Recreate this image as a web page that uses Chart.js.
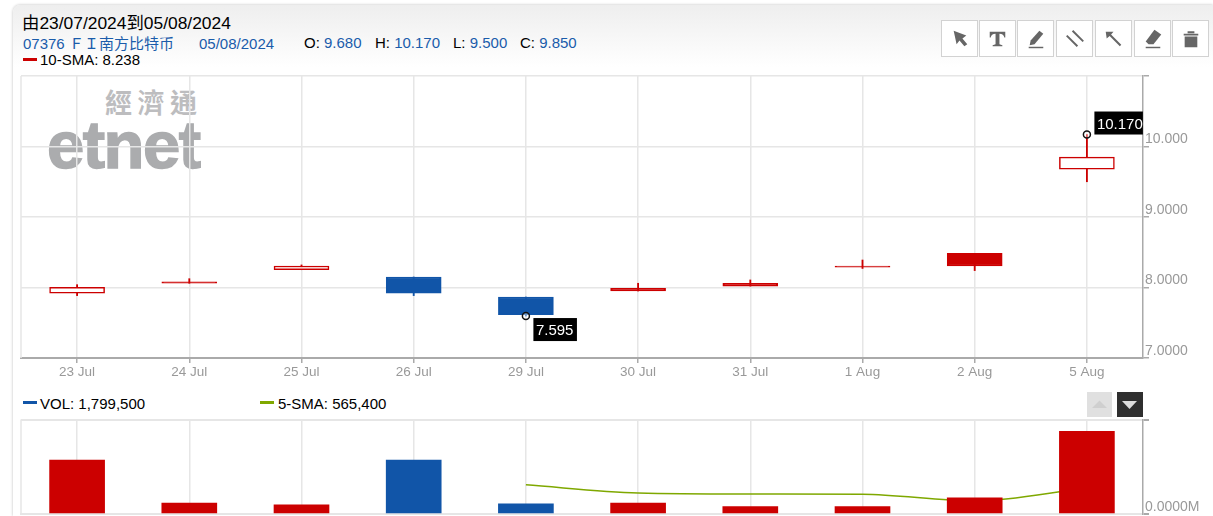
<!DOCTYPE html>
<html>
<head>
<meta charset="utf-8">
<title>07376</title>
<script src="https://cdn.jsdelivr.net/npm/chart.js@4"></script>
<style>
  html, body { margin: 0; padding: 0; background: #fff; }
  body { width: 1213px; height: 516px; overflow: hidden; position: relative;
         font-family: "Liberation Sans", "Noto Sans CJK SC", sans-serif; }
  .abs { position: absolute; white-space: nowrap; }
  #card { left: 13px; top: 5px; width: 1200px; height: 511px; border-radius: 7px 0 0 0;
          background: linear-gradient(#eeeeee 0, #ffffff 62px);
          box-shadow: 0 0 3px #bbb; }
  canvas { position: absolute; left: 0; }
  #priceChart { top: 0; }
  #volChart { top: 385px; }
  .txt { font-size: 15px; line-height: 16px; color: #000; }
  .blue { color: #1a5cab; }
  .swatch { height: 3px; width: 14px; }
  .tool { width: 35px; height: 35px; top: 20px; background: #fff; border: 1px solid #d2d2d2;
          box-sizing: content-box; }
  .tool svg { display: block; width: 35px; height: 35px; }
  .tool svg * { fill: #666; stroke: none; }
  .tool svg .ln { fill: none; stroke: #666; stroke-width: 2; }
</style>
</head>
<body>
<div id="card" class="abs"></div>

<div class="abs" style="left:105px;top:85px;font:bold 27px 'Noto Sans CJK TC';letter-spacing:5.500px;color:#bdbdbf;line-height:34px;">經濟通</div>
<div class="abs" style="left:47px;top:108px;font:bold 67px 'Liberation Sans';letter-spacing:-1.500px;color:#abacae;line-height:74px;-webkit-text-stroke:1.500px #abacae;">etnet</div>

<div class="abs" style="left:22px;top:14px;font-size:17.400px;line-height:18px;color:#000;">由23/07/2024到05/08/2024</div>
<div class="abs txt blue" style="left:23px;top:36px;">07376 ＦＩ南方比特币</div>
<div class="abs txt blue" style="left:199px;top:36px;">05/08/2024</div>
<div class="abs txt" style="left:304px;top:35px;">O: <span class="blue">9.680</span></div>
<div class="abs txt" style="left:375px;top:35px;">H: <span class="blue">10.170</span></div>
<div class="abs txt" style="left:453px;top:35px;">L: <span class="blue">9.500</span></div>
<div class="abs txt" style="left:520px;top:35px;">C: <span class="blue">9.850</span></div>
<div class="abs swatch" style="left:23px;top:58px;background:#cc0000;"></div>
<div class="abs txt" style="left:40px;top:52px;">10-SMA: 8.238</div>

<div class="abs swatch" style="left:23px;top:401px;background:#1155a8;"></div>
<div class="abs txt" style="left:40px;top:396px;">VOL: 1,799,500</div>
<div class="abs swatch" style="left:260px;top:401px;background:#80a800;"></div>
<div class="abs txt" style="left:278px;top:396px;">5-SMA: 565,400</div>

<div class="abs tool" style="left:941px;"><svg viewBox="0 0 36 36"><path d="M12 10 L25 15 L21 18 L26 24 L23 26 L18 20 L15 24 Z"/></svg></div>
<div class="abs tool" style="left:979px;"><svg viewBox="0 0 36 36"><path d="M10 11 H26 V17 H25 Q24.500 13 20 13 V24 L23 25 V26 H13 V25 L16 24 V13 Q11.500 13 11 17 H10 Z"/></svg></div>
<div class="abs tool" style="left:1017px;"><svg viewBox="0 0 36 36"><path d="M22 10 L26 13 L17 24 L12 25 L13 20 Z"/><path d="M11 26.500 H26 V28 H11 Z"/></svg></div>
<div class="abs tool" style="left:1056px;"><svg viewBox="0 0 36 36"><path class="ln" d="M16 10 L27 21 M10 15 L21 26"/></svg></div>
<div class="abs tool" style="left:1095px;"><svg viewBox="0 0 36 36"><path d="M10 11 L18 11 L15.500 14 L26 24.500 L24.500 26 L14 15.500 L11 18 Z"/></svg></div>
<div class="abs tool" style="left:1134px;"><svg viewBox="0 0 36 36"><path d="M20 9 L27 14 L19 24 H14 L11 21 Z"/><path d="M11 26.500 H26 V28 H11 Z"/></svg></div>
<div class="abs tool" style="left:1172px;"><svg viewBox="0 0 36 36"><path d="M11 13 H26 V15 H11 Z M15 10.500 H22 V12.500 H15 Z M12 16 H25 V27 H12 Z"/></svg></div>

<div class="abs" style="left:1087px;top:392px;width:25px;height:25px;background:#e0e0e0;"><svg width="25" height="25"><path d="M5 16 L12.500 8.500 L20 16 Z" fill="#cfcfcf"/></svg></div>
<div class="abs" style="left:1117px;top:392px;width:26px;height:25px;background:#2f2f2f;"><svg width="26" height="25"><path d="M5 9 L20 9 L12.500 17 Z" fill="#dddddd"/></svg></div>

<canvas id="priceChart" width="1213" height="385"></canvas>
<canvas id="volChart" width="1213" height="131"></canvas>

<script>
const days = ['23 Jul', '24 Jul', '25 Jul', '26 Jul', '29 Jul', '30 Jul', '31 Jul', '1 Aug', '2 Aug', '5 Aug'];
const opens = [7.918, 8.06, 8.252, 8.149, 7.865, 7.95, 8.02, 8.29, 8.305, 9.68];
const closes = [8.003, 8.08, 8.305, 7.918, 7.614, 7.99, 8.06, 8.305, 8.485, 9.85];
const highs = [8.04, 8.125, 8.32, 8.149, 7.865, 8.06, 8.107, 8.39, 8.485, 10.17];
const lows = [7.885, 8.06, 8.252, 7.885, 7.595, 7.95, 8.02, 8.27, 8.24, 9.5];
const hollowDays = ['23 Jul', '25 Jul', '5 Aug'];
const callouts = [null, null, null, null, 7.595, null, null, null, null, 10.17];
const volumes = [1172000, 240000, 197000, 1172000, 219000, 240000, 160000, 160000, 350000, 1799500];
const volSma = [null, null, null, null, 634000, 459000, 437000, 430000, 284000, 565400];
const priceTicks = [7, 8, 9, 10, 11];

const RED = '#cc0000';
const BLUE = '#1155a8';
const GRID = '#e6e6e6';
const AXIS = '#aaaaaa';
const LABEL = '#999999';
const FONT = 'Liberation Sans';

const isUp = days.map((d, i) => closes[i] >= opens[i]);
const candleColor = isUp.map(up => up ? RED : BLUE);

// left edge of the plot, neither axis draws it
const frame = {
  id: 'frame',
  beforeDatasetsDraw(chart) {
    const { ctx, chartArea } = chart;
    ctx.save();
    ctx.strokeStyle = GRID;
    ctx.lineWidth = 1.5;
    ctx.beginPath();
    ctx.moveTo(chartArea.left, chartArea.top);
    ctx.lineTo(chartArea.left, chartArea.bottom);
    ctx.stroke();
    ctx.restore();
  }
};

// black boxes next to the high and low markers
const calloutLabels = {
  id: 'calloutLabels',
  afterDatasetsDraw(chart) {
    const { ctx, scales } = chart;
    ctx.save();
    ctx.font = '15px "' + FONT + '"';
    ctx.textBaseline = 'middle';
    ctx.textAlign = 'left';
    callouts.forEach((v, i) => {
      if (v === null) return;
      const x = scales.x.getPixelForValue(i);
      const y = scales.y.getPixelForValue(v);
      const above = v === Math.max(...highs);
      const text = v.toFixed(3);
      const w = Math.min(ctx.measureText(text).width + 6, 48.5);
      const bx = x + 7.5;
      const by = above ? y - 23 : y + 2;
      ctx.fillStyle = '#000';
      ctx.fillRect(bx, by, w, 23);
      ctx.fillStyle = '#fff';
      ctx.fillText(text, bx + 2.5, by + 13);
    });
    ctx.restore();
  }
};

new Chart(document.getElementById('priceChart'), {
  type: 'bar',
  data: {
    labels: days,
    datasets: [
      {
        type: 'line',
        data: callouts,
        showLine: false,
        pointStyle: 'circle',
        pointRadius: 3.5,
        pointBorderWidth: 1.5,
        pointBorderColor: '#111',
        pointBackgroundColor: 'rgba(255,255,255,0.4)',
        order: 1
      },
      {
        data: days.map((d, i) => [opens[i], closes[i]]),
        backgroundColor: days.map((d, i) => hollowDays.includes(d) ? '#fff' : candleColor[i]),
        borderColor: candleColor,
        borderWidth: 1.5,
        borderSkipped: false,
        barThickness: 55,
        grouped: false,
        order: 2
      },
      {
        data: days.map((d, i) => [lows[i], highs[i]]),
        backgroundColor: candleColor,
        barThickness: 1.2,
        grouped: false,
        order: 3
      }
    ]
  },
  options: {
    responsive: false,
    animation: false,
    devicePixelRatio: 1,
    layout: { padding: { left: 21, top: 76, right: 0, bottom: 0 } },
    plugins: { legend: { display: false }, tooltip: { enabled: false } },
    scales: {
      x: {
        offset: true,
        afterFit(s) { s.height = 27; },
        grid: { offset: false, color: GRID, tickColor: AXIS, tickLength: 5, lineWidth: 1.5 },
        border: { color: AXIS, width: 2 },
        ticks: { color: LABEL, font: { family: FONT, size: 13.5 }, padding: 1, maxRotation: 0, autoSkip: false }
      },
      y: {
        position: 'right',
        min: 7,
        max: 11,
        afterBuildTicks(s) { s.ticks = priceTicks.map(value => ({ value })); },
        afterFit(s) { s.width = 70; },
        grid: { color: GRID, tickColor: AXIS, tickLength: 6, lineWidth: 1.5 },
        border: { color: AXIS, width: 1.5 },
        ticks: {
          color: LABEL,
          font: { family: FONT, size: 14 },
          padding: -4,
          labelOffset: -7,
          callback: v => v === 11 ? '' : v.toPrecision(5)
        }
      }
    }
  },
  plugins: [frame, calloutLabels]
});

new Chart(document.getElementById('volChart'), {
  type: 'bar',
  data: {
    labels: days,
    datasets: [
      {
        data: volumes,
        backgroundColor: candleColor,
        barThickness: 55,
        order: 1
      },
      {
        type: 'line',
        data: volSma,
        borderColor: '#7fa800',
        borderWidth: 1.5,
        pointRadius: 0,
        cubicInterpolationMode: 'monotone',
        order: 2
      }
    ]
  },
  options: {
    responsive: false,
    animation: false,
    devicePixelRatio: 1,
    layout: { padding: { left: 21, top: 34.5, right: 0, bottom: 2 } },
    plugins: { legend: { display: false }, tooltip: { enabled: false } },
    scales: {
      x: {
        offset: true,
        afterFit(s) { s.height = 0; },
        grid: { offset: false, color: GRID, drawTicks: false, lineWidth: 1.5 },
        border: { color: GRID, width: 2 },
        ticks: { display: false, padding: 0 }
      },
      y: {
        position: 'right',
        min: 0,
        max: 2055000,
        afterBuildTicks(s) { s.ticks = [{ value: 0 }, { value: 2055000 }]; },
        afterFit(s) { s.width = 70; s.paddingTop = 0; s.paddingBottom = 0; },
        grid: { color: GRID, tickColor: AXIS, tickLength: 6, lineWidth: 2 },
        border: { color: AXIS, width: 1.5 },
        ticks: {
          color: LABEL,
          font: { family: FONT, size: 14 },
          padding: -4,
          labelOffset: -7,
          callback: v => v === 0 ? '0.0000M' : ''
        }
      }
    }
  },
  plugins: [frame]
});
</script>
</body>
</html>
